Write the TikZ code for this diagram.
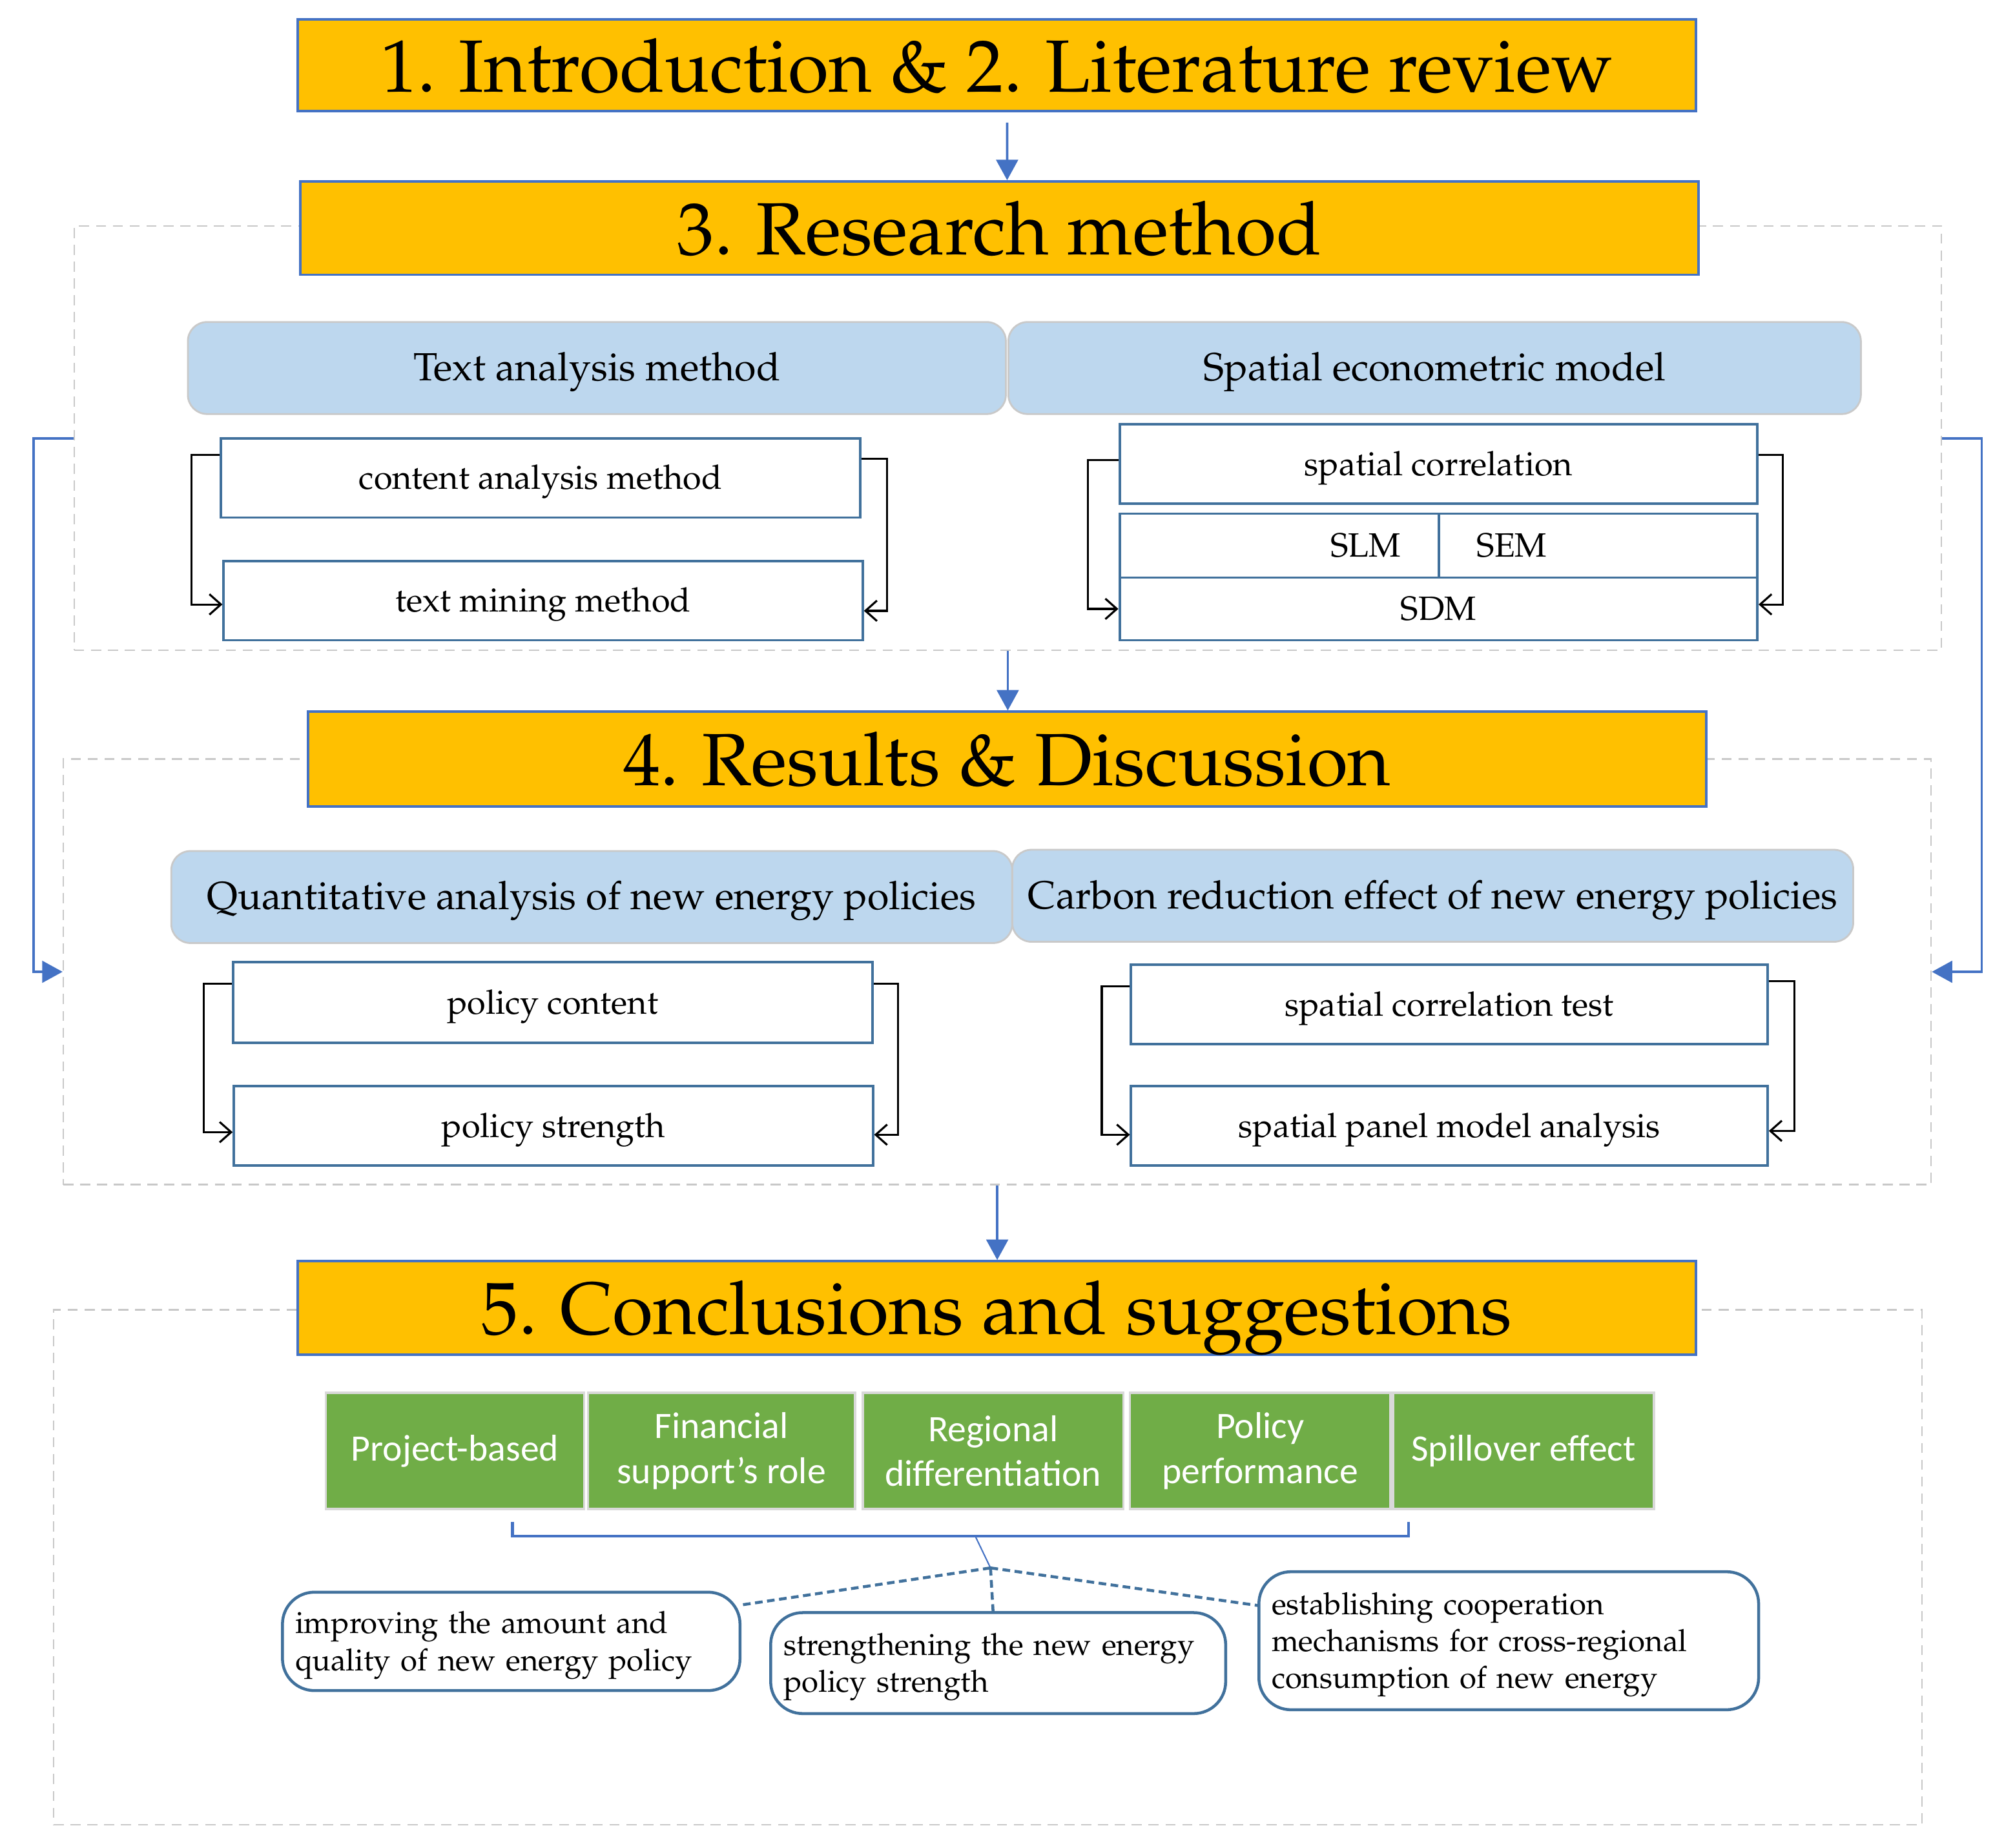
\documentclass[tikz,border=0pt]{standalone}
\usepackage[T1]{fontenc}
\usepackage{fontspec}
\usepackage{tikz}
\usetikzlibrary{arrows.meta}
\newfontfamily\carlito{Carlito}
\newcommand{\pal}{\fontencoding{T1}\fontfamily{ppl}\selectfont}
\definecolor{torange}{HTML}{FFC000}
\definecolor{tblue}{HTML}{4472C4}
\definecolor{rblue}{HTML}{BDD7EE}
\definecolor{rgray}{HTML}{C9C9C9}
\definecolor{iblue}{HTML}{41719C}
\definecolor{fgray}{HTML}{C8C8C8}
\definecolor{ggreen}{HTML}{70AD47}
\definecolor{gborder}{HTML}{D9D9D9}

\begin{document}
\begin{tikzpicture}[%
	frame/.style={draw=fgray, dash pattern=on 4.5pt off 3pt, line width=0.6pt, inner sep=0pt},
	title/.style={draw=tblue, line width=1.1pt, fill=torange, minimum width=21.88cm, inner sep=0pt, text height=23.8pt, text depth=0pt, font=\pal\fontsize{33}{40}\selectfont},
	head/.style={draw=rgray, line width=0.8pt, fill=rblue, rounded corners=0.3cm, minimum height=1.44cm, inner sep=0pt, text height=13.1pt, text depth=1.75pt, font=\pal\fontsize{17.5}{21}\selectfont},
	item/.style={draw=iblue, line width=1.1pt, fill=white, minimum width=10cm, inner sep=0pt, text height=11.7pt, text depth=1.5pt, font=\pal\fontsize{15}{18}\selectfont},
	finding/.style={draw=gborder, line width=1pt, fill=ggreen, text=white, align=center, minimum height=1.82cm, inner sep=0pt, font=\carlito\fontsize{16.6}{20}\selectfont},
	advice/.style={draw=iblue, line width=1.3pt, fill=white, rounded corners=0.5cm, align=left, inner xsep=0.2cm, inner ysep=0pt, font=\pal\fontsize{13.6}{16.5}\selectfont},
	flow/.style={draw=tblue, line width=1.1pt, -{Triangle[length=3.2mm,width=3.4mm]}},
	loop/.style={draw=black, line width=0.9pt, -{Straight Barb[length=1.8mm,width=3.2mm]}},
	link/.style={draw=iblue, line width=1.3pt, dash pattern=on 3.4pt off 2pt}]
	\useasboundingbox (0,0) rectangle (31.36,-28.92);

	\node[frame, minimum width=29.22cm, minimum height=6.64cm] (frameA) at (15.77,-6.86) {};
	\node[frame, minimum width=29.23cm, minimum height=6.66cm] (frameB) at (15.605,-15.21) {};
	\node[frame, minimum width=29.24cm, minimum height=8.06cm] (frameC) at (15.46,-24.53) {};

	\node[title, minimum height=1.44cm] (intro) at (15.6,-1.02) {1. Introduction \& 2. Literature review};
	\node[title, minimum height=1.46cm] (method) at (15.64,-3.57) {3. Research method};
	\node[title, minimum height=1.48cm] (results) at (15.76,-11.88) {4. Results \& Discussion};
	\node[title, minimum height=1.46cm] (concl) at (15.6,-20.47) {5. Conclusions and suggestions};

	\node[head, minimum width=12.8cm] (textan) at (9.34,-5.76) {Text analysis method};
	\node[head, minimum width=13.34cm] (spatial) at (22.45,-5.76) {Spatial econometric model};
	\node[head, minimum width=13.16cm] (quant) at (9.26,-14.04) {Quantitative analysis of new energy policies};
	\node[head, minimum width=13.16cm] (carbon) at (22.42,-14.02) {Carbon reduction effect of new energy policies};

	\node[item, minimum height=1.24cm] (content) at (8.46,-7.48) {content analysis method};
	\node[item, minimum height=1.24cm] (mining) at (8.5,-9.4) {text mining method};
	\node[item, minimum width=9.98cm, minimum height=1.24cm] (corr) at (22.51,-7.26) {spatial correlation};
	\node[item, minimum width=5cm, minimum height=1cm, text width=3.8cm, inner xsep=0.6cm, align=right] (slm) at (20.02,-8.54) {SLM};
	\node[item, minimum width=4.98cm, minimum height=1cm, text width=3.8cm, inner xsep=0.58cm, align=left] (sem) at (25.01,-8.54) {SEM};
	\node[item, minimum width=9.98cm, minimum height=0.98cm] (sdm) at (22.51,-9.53) {SDM};

	\node[item, minimum height=1.26cm] (pcontent) at (8.65,-15.69) {policy content};
	\node[item, minimum height=1.24cm] (pstrength) at (8.66,-17.62) {policy strength};
	\node[item, minimum width=9.96cm, minimum height=1.24cm] (ctest) at (22.68,-15.72) {spatial correlation test};
	\node[item, minimum width=9.96cm, minimum height=1.24cm] (panel) at (22.68,-17.62) {spatial panel model analysis};

	\node[finding, minimum width=4.04cm] (proj) at (7.12,-22.71) {Project-based};
	\node[finding, minimum width=4.18cm] (fin) at (11.29,-22.71) {Financial\\support’s role};
	\node[finding, minimum width=4.08cm] (reg) at (15.54,-22.71) {Regional\\differentiation};
	\node[finding, minimum width=4.08cm] (perf) at (19.72,-22.71) {Policy\\performance};
	\node[finding, minimum width=4.08cm] (spill) at (23.84,-22.71) {Spillover effect};

	\node[advice, text width=6.76cm, text depth=16.8pt, minimum height=1.54cm] (imp) at (8.0,-25.69) {improving the amount and\\quality of new energy policy};
	\node[advice, text width=6.72cm, text depth=16.8pt, minimum height=1.58cm] (str) at (15.62,-26.03) {strengthening the new energy\\policy strength};
	\node[advice, text width=7.42cm, text depth=33.3pt, minimum height=2.16cm] (cons) at (23.61,-25.68) {establishing cooperation\\mechanisms for cross-regional\\consumption of new energy};

	\draw[loop] ([yshift=3.6mm]content.west) -- ++(-0.44,0) |- ([yshift=-0.6mm]mining.west);
	\draw[loop] ([yshift=3mm]content.east) -- ++(0.4,0) |- ([yshift=-1.6mm]mining.east);
	\draw[loop] ([yshift=0.6mm]corr.west) -- ++(-0.48,0) |- (sdm.west);
	\draw[loop] ([yshift=1.4mm]corr.east) -- ++(0.38,0) |- ([yshift=0.7mm]sdm.east);
	\draw[loop] ([yshift=2.9mm]pcontent.west) -- ++(-0.44,0) |- ([yshift=-1mm]pstrength.west);
	\draw[loop] ([yshift=2.9mm]pcontent.east) -- ++(0.38,0) |- ([yshift=-1.4mm]pstrength.east);
	\draw[loop] ([yshift=2.8mm]ctest.west) -- ++(-0.44,0) |- ([yshift=-1.4mm]panel.west);
	\draw[loop] ([yshift=3.6mm]ctest.east) -- ++(0.4,0) |- ([yshift=-0.8mm]panel.east);

	\draw[flow] ([xshift=1.6mm,yshift=-1.6mm]intro.south) -- ([xshift=1.2mm]method.north);
	\draw[flow] (frameA.south) -- (frameA.south |- results.north);
	\draw[flow] (frameB.south) -- (frameB.south |- concl.north);
	\draw[flow] (frameA.west) -- ++(-0.62,0) |- (frameB.west);
	\draw[flow] (frameA.east) -- ++(0.62,0) |- (frameB.east);

	\coordinate (brl) at (8.02,-23.82);
	\coordinate (brr) at (22.04,-23.82);
	\coordinate (stem) at (15.26,-24.04);
	\coordinate (hub) at (15.5,-24.54);
	\draw[tblue, line width=1.2pt] (brl) -- ++(0,-0.22) -| (brr);
	\draw[tblue, line width=0.6pt] (stem) -- (hub);
	\draw[link] (hub) -- (imp.9);
	\draw[link] (hub) -- ([xshift=-0.8mm]str.north);
	\draw[link] (hub) -- (cons.172);
\end{tikzpicture}
\end{document}
